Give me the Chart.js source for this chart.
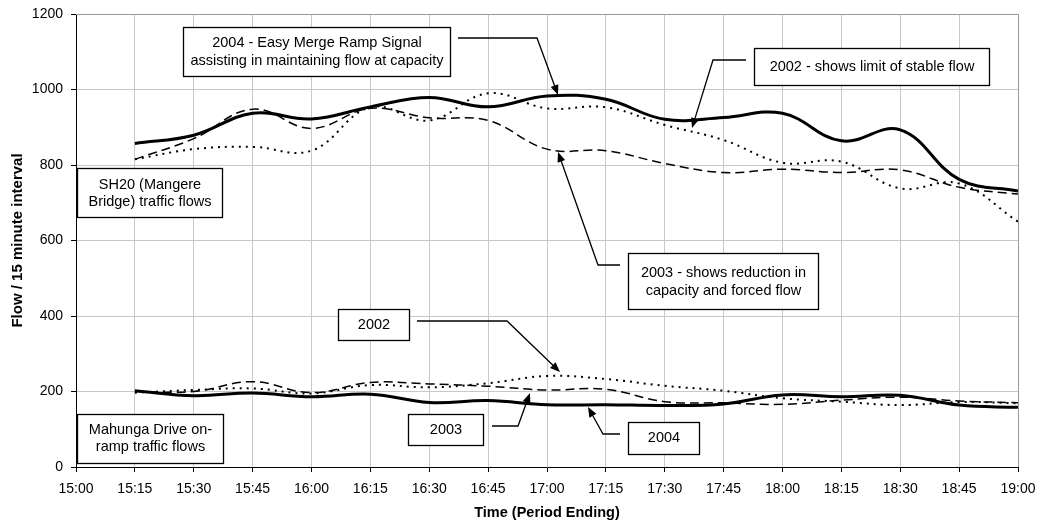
<!DOCTYPE html>
<html><head><meta charset="utf-8">
<script src="https://cdn.jsdelivr.net/npm/chart.js@4/dist/chart.umd.min.js"></script>
<style>html,body{margin:0;padding:0;background:#fff}</style>
</head><body>
<canvas id="c" width="1038" height="524"></canvas>
<script>
// ---- data ----
const timeLabels = ["15:00","15:15","15:30","15:45","16:00","16:15","16:30","16:45","17:00","17:15","17:30","17:45","18:00","18:15","18:30","18:45","19:00"];
const periodLabels = timeLabels.slice(1); // values are for 15:15 .. 19:00
const yTickValues = [0,200,400,600,800,1000,1200];

const sh20_2002 = [815,842,848,838,953,918,990,950,953,906,866,806,809,738,751,650];
const sh20_2003 = [815,870,948,897,950,925,918,842,838,804,780,789,780,787,741,723];
const sh20_2004 = [857,879,937,922,954,979,954,983,974,921,926,937,864,893,762,731];

const mah_2002 = [197,204,208,195,217,211,222,241,233,215,202,182,173,164,172,169];
const mah_2003 = [200,200,226,197,224,220,214,204,206,173,170,166,177,185,175,170];
const mah_2004 = [202,189,196,186,193,171,176,165,165,163,167,191,186,190,164,158];

const FONT = '"Liberation Sans", Arial, sans-serif';

function pts(arr){ return arr.map((v,i)=>({x: periodLabels[i], y: v})); }

const styles = {
  y2002: {borderColor:'#000', borderWidth:2, borderDash:[2,5]},
  y2003: {borderColor:'#000', borderWidth:1.5, borderDash:[9,5]},
  y2004: {borderColor:'#000', borderWidth:3, borderDash:[]}
};

function ds(arr, st){
  return Object.assign({data: pts(arr), pointRadius:0, tension:0.4, fill:false, borderCapStyle:'butt'}, st);
}

// ---- annotations (text boxes + leader arrows) ----
const boxes = [
  {x:183, y:27, w:267, h:49, lines:["2004 - Easy Merge Ramp Signal","assisting in maintaining flow at capacity"], ly:[42.5,61]},
  {x:754, y:48, w:235, h:37, lines:["2002 - shows limit of stable flow"], ly:[67]},
  {x:628, y:253, w:190, h:56, lines:["2003 - shows reduction in","capacity and forced flow"], ly:[272.5,290.5]},
  {x:77, y:168, w:145, h:49, lines:["SH20 (Mangere","Bridge) traffic flows"], ly:[184.5,202]},
  {x:77, y:414, w:146, h:49, lines:["Mahunga Drive on-","ramp traffic flows"], ly:[429.5,447]},
  {x:338, y:309, w:71, h:31, lines:["2002"], ly:[324.5]},
  {x:408, y:414, w:75, h:31, lines:["2003"], ly:[429.5]},
  {x:628, y:422, w:71, h:32, lines:["2004"], ly:[438]}
];
const arrows = [
  [[458,38],[537,38],[558,95]],
  [[746,60],[713,60],[692,128]],
  [[620,265],[598,265],[558,152]],
  [[417,321],[507,321],[560,372]],
  [[492,426],[518,426],[530,393]],
  [[620,434],[603,434],[588,407]]
];

const annot = {
  id:'annot',
  afterDraw(chart){
    const ctx = chart.ctx, ca = chart.chartArea;
    ctx.save();
    // plot border top/right
    ctx.strokeStyle = '#9a9a9a'; ctx.lineWidth = 1; ctx.setLineDash([]);
    ctx.beginPath();
    ctx.moveTo(ca.left, ca.top+0.5); ctx.lineTo(ca.right+0.5, ca.top+0.5); ctx.lineTo(ca.right+0.5, ca.bottom);
    ctx.stroke();
    // arrows
    ctx.strokeStyle = '#000'; ctx.fillStyle = '#000'; ctx.lineWidth = 1.3;
    arrows.forEach(a=>{
      ctx.beginPath();
      ctx.moveTo(a[0][0], a[0][1]);
      const n = a.length;
      const tip = a[n-1], prev = a[n-2];
      const ang = Math.atan2(tip[1]-prev[1], tip[0]-prev[0]);
      const L = 10, W = 4;
      for(let i=1;i<n-1;i++) ctx.lineTo(a[i][0], a[i][1]);
      ctx.lineTo(tip[0]-Math.cos(ang)*L*0.8, tip[1]-Math.sin(ang)*L*0.8);
      ctx.stroke();
      ctx.beginPath();
      ctx.moveTo(tip[0], tip[1]);
      ctx.lineTo(tip[0]-Math.cos(ang)*L - Math.sin(ang)*W, tip[1]-Math.sin(ang)*L + Math.cos(ang)*W);
      ctx.lineTo(tip[0]-Math.cos(ang)*L + Math.sin(ang)*W, tip[1]-Math.sin(ang)*L - Math.cos(ang)*W);
      ctx.closePath(); ctx.fill();
    });
    // boxes
    ctx.font = '14.5px ' + FONT;
    ctx.textAlign = 'center'; ctx.textBaseline = 'middle';
    boxes.forEach(b=>{
      ctx.fillStyle = '#fff';
      ctx.fillRect(b.x, b.y, b.w, b.h);
      ctx.strokeStyle = '#000'; ctx.lineWidth = 1.3;
      ctx.strokeRect(b.x+0.5, b.y+0.5, b.w, b.h);
      ctx.fillStyle = '#000';
      b.lines.forEach((t,i)=> ctx.fillText(t, b.x + b.w/2 + 0.5, b.ly[i]));
    });
    ctx.restore();
  }
};

new Chart(document.getElementById('c'), {
  type:'line',
  data:{
    labels: timeLabels,
    datasets:[
      ds(sh20_2002, styles.y2002),
      ds(sh20_2003, styles.y2003),
      ds(sh20_2004, styles.y2004),
      ds(mah_2002, styles.y2002),
      ds(mah_2003, styles.y2003),
      ds(mah_2004, styles.y2004)
    ]
  },
  options:{
    responsive:false, animation:false, devicePixelRatio:1,
    layout:{padding:{top:14, right:20, left:0, bottom:0}},
    plugins:{legend:{display:false}, tooltip:{enabled:false}},
    scales:{
      x:{
        type:'category', offset:false,
        afterFit(s){ s.height = 57; s.paddingLeft = 0; s.paddingRight = 0; },
        grid:{color:'#c8c8c8', lineWidth:1, tickLength:5, tickColor:'#000', drawTicks:true},
        border:{color:'#000', width:1},
        ticks:{color:'#000', font:{family:FONT, size:14}, maxRotation:0, autoSkip:false, padding:9},
        title:{display:true, text:'Time (Period Ending)', color:'#000', font:{family:FONT, size:14.5, weight:'bold'}, padding:{top:0,bottom:2}}
      },
      y:{
        min:0, max:1200,
        afterFit(s){ s.width = 76; s.paddingTop = 0; s.paddingBottom = 0; },
        afterBuildTicks(s){ s.ticks = yTickValues.map(v=>({value:v})); },
        grid:{color:'#c8c8c8', lineWidth:1, tickLength:5, tickColor:'#000', drawTicks:true},
        border:{color:'#000', width:1},
        ticks:{color:'#000', font:{family:FONT, size:14}, padding:8, callback:(v)=>String(v)},
        title:{display:true, text:'Flow / 15 minute interval', color:'#000', font:{family:FONT, size:15, weight:'bold'}, padding:{top:9,bottom:0}}
      }
    }
  },
  plugins:[annot]
});
</script>
</body></html>
